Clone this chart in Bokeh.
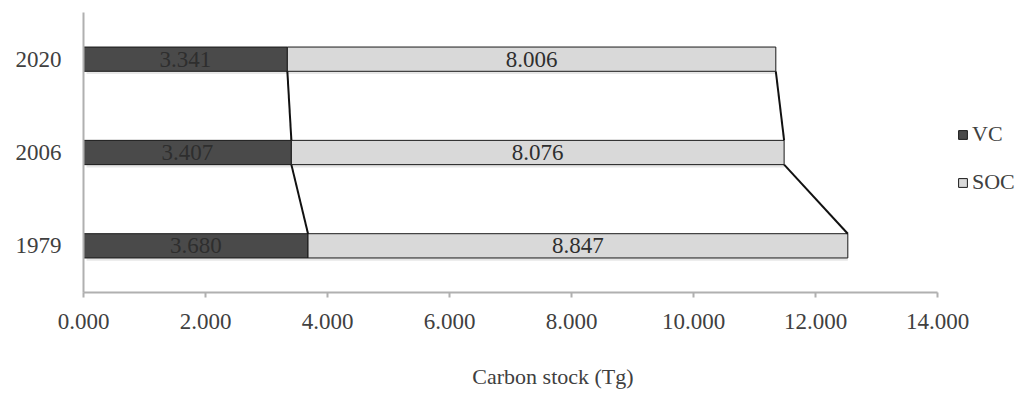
from bokeh.plotting import figure
from bokeh.models import ColumnDataSource, FactorRange, Range1d, FixedTicker, Legend, LegendItem
from bokeh.transform import dodge
from bokeh.core.properties import value
from bokeh.embed import file_html
from bokeh.resources import INLINE

# ---- data ----
years = ["1979", "2006", "2020"]
vc = [3.680, 3.407, 3.341]
soc = [8.847, 8.076, 8.006]
x_ticks = [0, 2, 4, 6, 8, 10, 12, 14]
x_tick_labels = ["0.000", "2.000", "4.000", "6.000", "8.000", "10.000", "12.000", "14.000"]
series_names = ["VC", "SOC"]
x_title = "Carbon stock (Tg)"

FONT = "Liberation Serif"
TXT = "#404040"
BAR_H = 0.26

total = [a + b for a, b in zip(vc, soc)]

p = figure(width=1024, height=396, y_range=FactorRange(*years, range_padding=0),
           x_range=Range1d(0, 15.39), output_backend="svg", toolbar_location=None,
           min_border_left=83, min_border_right=2, min_border_top=12, min_border_bottom=104)
p.outline_line_color = None
p.xgrid.visible = False
p.ygrid.visible = False

src = ColumnDataSource(dict(year=years, vc=vc, soc=soc, total=total,
                            vc_mid=[v / 2 for v in vc],
                            soc_mid=[v + s / 2 for v, s in zip(vc, soc)],
                            vc_lab=["%.3f" % v for v in vc],
                            soc_lab=["%.3f" % s for s in soc]))

# subtle shadows beneath bars
p.hbar(y=dodge("year", -0.03, range=p.y_range), left=0.05, right="total", height=BAR_H,
       source=src, fill_color="#bbbbbb", fill_alpha=0.35, line_color=None)

r_vc = p.hbar(y="year", left=0, right="vc", height=BAR_H, source=src,
              fill_color="#4a4a4a", line_color="#1a1a1a", line_width=1)
r_soc = p.hbar(y="year", left="vc", right="total", height=BAR_H, source=src,
               fill_color="#d9d9d9", line_color="#1a1a1a", line_width=1)

# series lines connecting bars (upper bar bottom edge -> lower bar top edge)
seg = ColumnDataSource(dict(
    ya=[years[2], years[1], years[2], years[1]],
    yb=[years[1], years[0], years[1], years[0]],
    x0=[vc[2], vc[1], total[2], total[1]],
    x1=[vc[1], vc[0], total[1], total[0]]))
p.segment(x0="x0", y0=dodge("ya", -BAR_H / 2, range=p.y_range),
          x1="x1", y1=dodge("yb", BAR_H / 2, range=p.y_range),
          source=seg, line_color="#111111", line_width=2)

p.text(x="vc_mid", y="year", text="vc_lab", source=src, text_align="center",
       text_baseline="middle", text_font=value(FONT), text_font_size="23px", text_color="#2e2e2e")
p.text(x="soc_mid", y="year", text="soc_lab", source=src, text_align="center",
       text_baseline="middle", text_font=value(FONT), text_font_size="23px", text_color="#2e2e2e")

# axes
xa = p.xaxis[0]
xa.bounds = (x_ticks[0], x_ticks[-1])
xa.ticker = FixedTicker(ticks=x_ticks)
xa.major_label_overrides = {t: l for t, l in zip(x_ticks, x_tick_labels)}
xa.minor_tick_line_color = None
xa.major_tick_in = 0
xa.major_tick_out = 5
xa.axis_line_color = "#b0b0b0"
xa.axis_line_width = 2
xa.major_tick_line_color = "#b0b0b0"
xa.major_tick_line_width = 2
xa.major_label_text_font = FONT
xa.major_label_text_font_size = "23px"
xa.major_label_text_color = TXT
xa.major_label_standoff = 16
xa.axis_label = x_title
xa.axis_label_text_font = FONT
xa.axis_label_text_font_size = "22px"
xa.axis_label_text_font_style = "normal"
xa.axis_label_text_color = TXT
xa.axis_label_standoff = 32

ya = p.yaxis[0]
ya.major_tick_in = 0
ya.major_tick_out = 0
ya.minor_tick_line_color = None
ya.axis_line_color = "#b0b0b0"
ya.axis_line_width = 2
ya.major_label_text_font = FONT
ya.major_label_text_font_size = "23px"
ya.major_label_text_color = TXT
ya.major_label_standoff = 22

legend = Legend(items=[LegendItem(label=series_names[0], renderers=[r_vc]),
                       LegendItem(label=series_names[1], renderers=[r_soc])],
                location=(874, 97), orientation="vertical",
                glyph_width=11, glyph_height=11, label_standoff=4, spacing=22,
                padding=5, margin=0, border_line_color=None, background_fill_alpha=0,
                label_text_font=FONT, label_text_font_size="22px", label_text_color=TXT)
p.add_layout(legend, "center")

open("out.html", "w").write(file_html(p, INLINE))
